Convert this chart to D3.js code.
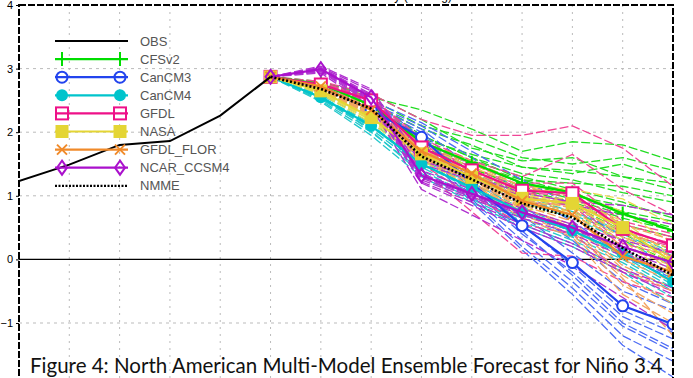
<!doctype html>
<html>
<head>
<meta charset="utf-8">
<style>
  body { margin:0; background:#fff; }
  svg { display:block; }
  .tick text { font-family:"Liberation Sans", Arial, sans-serif; font-size:11px; fill:#000; }
  .leg text { font-family:"Liberation Sans", Arial, sans-serif; font-size:13px; fill:#555; }
</style>
<script src="https://cdn.jsdelivr.net/npm/d3@7"></script>
</head>
<body>
<svg id="plume" width="693" height="378"></svg>
<script>
// observed Nino3.4 (months 0..5), forecasts start at month 5
var obs = [1.23, 1.49, 1.80, 1.86, 2.26, 2.87]
var ic = 2.87
var yTicks = [-1, 0, 1, 2, 3, 4]

var models = ["CFSv2", "CanCM3", "CanCM4", "GFDL", "NASA", "GFDL_FLOR", "NCAR_CCSM4"]
var colors = ["#00dd00", "#2244ee", "#00c4cc", "#ee1188", "#e4d534", "#f08a2a", "#aa11cc"]
var memberColors = ["#22dd22", "#4d6cf5", "#22c8cc", "#f04696", "#e8db50", "#f3a461", "#b030d0"]
var markers = ["plus", "circle", "dot", "square", "fsquare", "cross", "diamond"]

// ensemble means, months 6..13
var meanCFS   = [2.76, 2.42, 1.85, 1.52, 1.20, 1.05, 0.72, 0.45]
var meanCM3   = [2.72, 2.35, 1.92, 1.20, 0.53, -0.05, -0.73, -1.02]
var meanCM4   = [2.55, 2.10, 1.50, 1.13, 0.74, 0.45, 0.10, -0.35]
var meanGFDL  = [2.75, 2.50, 1.76, 1.40, 1.08, 1.04, 0.48, 0.22]
var meanNASA  = [2.65, 2.23, 1.66, 1.29, 0.96, 0.88, 0.50, -0.05]
var meanFLOR  = [2.72, 2.35, 1.70, 1.35, 0.92, 0.70, 0.05, -0.20]
var meanNCAR  = [2.99, 2.55, 1.32, 1.03, 0.74, 0.50, 0.20, -0.05]
var meanNMME  = [2.68, 2.37, 1.62, 1.26, 0.88, 0.66, 0.18, -0.25]

// ensemble members, months 6..13
var memCFS = [
  [2.80, 2.55, 2.35, 2.05, 1.70, 1.85, 1.80, 1.55],
  [2.78, 2.60, 2.20, 1.75, 1.55, 1.60, 1.30, 1.10],
  [2.75, 2.45, 2.05, 1.80, 1.45, 1.35, 1.50, 1.25],
  [2.72, 2.40, 1.95, 1.60, 1.25, 1.05, 0.75, 0.60],
  [2.70, 2.38, 1.80, 1.45, 1.10, 0.90, 0.55, 0.35],
  [2.74, 2.45, 1.85, 1.50, 1.20, 1.00, 0.85, 0.70],
  [2.76, 2.35, 1.75, 1.40, 1.00, 0.85, 0.45, 0.15],
  [2.71, 2.42, 1.70, 1.35, 1.05, 0.90, 0.65, 0.45],
  [2.73, 2.30, 1.65, 1.30, 0.95, 0.75, 0.40, 0.05],
  [2.77, 2.50, 1.95, 1.60, 1.35, 1.25, 1.05, 0.90],
  [2.69, 2.36, 1.80, 1.50, 1.25, 1.20, 1.15, 1.00],
  [2.75, 2.44, 1.90, 1.65, 1.45, 1.40, 1.30, 1.20],
  [2.72, 2.28, 1.60, 1.25, 0.90, 0.70, 0.30, -0.05],
  [2.74, 2.40, 1.85, 1.55, 1.30, 1.10, 0.90, 0.65],
  [2.78, 2.52, 2.10, 1.90, 1.60, 1.50, 1.60, 1.40],
  [2.70, 2.33, 1.78, 1.42, 1.15, 0.95, 0.70, 0.50]
]
var memCM3 = [
  [2.75, 2.45, 2.10, 1.60, 1.05, 0.60, 0.05, -0.30],
  [2.70, 2.30, 1.85, 1.10, 0.40, -0.20, -0.90, -1.25],
  [2.72, 2.40, 2.00, 1.30, 0.70, 0.10, -0.50, -0.80],
  [2.68, 2.25, 1.75, 0.95, 0.20, -0.45, -1.20, -1.60],
  [2.74, 2.38, 1.95, 1.25, 0.55, -0.10, -0.80, -1.15],
  [2.71, 2.32, 1.80, 1.00, 0.30, -0.35, -1.05, -1.45],
  [2.73, 2.42, 2.05, 1.45, 0.85, 0.30, -0.35, -0.70],
  [2.69, 2.28, 1.70, 0.90, 0.15, -0.55, -1.35, -1.85],
  [2.76, 2.50, 2.15, 1.70, 1.25, 0.85, 0.35, 0.10],
  [2.70, 2.35, 1.90, 1.15, 0.45, -0.25, -1.00, -1.40]
]
var memCM4 = [
  [2.55, 2.15, 1.60, 1.25, 0.90, 0.65, 0.30, -0.10],
  [2.50, 2.00, 1.40, 1.00, 0.60, 0.30, -0.05, -0.50],
  [2.58, 2.20, 1.65, 1.30, 0.95, 0.70, 0.40, 0.05],
  [2.52, 2.05, 1.45, 1.05, 0.65, 0.35, 0.00, -0.45],
  [2.56, 2.12, 1.50, 1.15, 0.75, 0.45, 0.10, -0.35],
  [2.48, 1.95, 1.30, 0.90, 0.50, 0.20, -0.20, -0.70],
  [2.60, 2.25, 1.70, 1.35, 1.00, 0.75, 0.45, 0.10],
  [2.53, 2.08, 1.55, 1.20, 0.80, 0.50, 0.15, -0.30],
  [2.57, 2.02, 1.35, 0.95, 0.55, 0.25, -0.15, -0.60],
  [2.54, 2.10, 1.50, 1.10, 0.70, 0.45, 0.05, -0.40]
]
var memGFDL = [
  [2.80, 2.60, 2.20, 1.95, 1.95, 2.10, 1.75, 1.15],
  [2.78, 2.55, 1.90, 1.55, 1.30, 1.65, 1.10, 0.70],
  [2.74, 2.50, 1.75, 1.40, 1.05, 1.00, 0.40, 0.20],
  [2.72, 2.45, 1.65, 1.25, 0.90, 0.85, 0.20, -0.10],
  [2.76, 2.52, 1.80, 1.45, 1.15, 1.10, 0.55, 0.35],
  [2.70, 2.40, 1.50, 1.00, 0.55, 0.40, -0.20, -0.50],
  [2.77, 2.55, 1.85, 1.50, 1.20, 1.20, 0.60, 0.40],
  [2.73, 2.48, 1.70, 1.30, 0.95, 0.90, 0.25, 0.05],
  [2.68, 2.35, 1.40, 0.75, 0.10, 0.05, -0.35, -0.60],
  [2.75, 2.52, 1.80, 1.45, 1.10, 1.05, 0.45, 0.25]
]
var memNASA = [
  [2.68, 2.30, 1.75, 1.40, 1.10, 1.05, 0.75, 0.25],
  [2.62, 2.18, 1.60, 1.20, 0.85, 0.75, 0.35, -0.20],
  [2.66, 2.25, 1.70, 1.35, 1.00, 0.95, 0.60, 0.05],
  [2.60, 2.15, 1.55, 1.15, 0.80, 0.70, 0.30, -0.30],
  [2.70, 2.35, 1.80, 1.45, 1.15, 1.10, 0.95, 0.55],
  [2.64, 2.20, 1.62, 1.25, 0.92, 0.82, 0.45, -0.10],
  [2.67, 2.28, 1.68, 1.30, 1.00, 0.90, 0.55, 0.00],
  [2.63, 2.20, 1.65, 1.25, 0.95, 0.85, 0.40, -0.15]
]
var memFLOR = [
  [2.75, 2.40, 1.80, 1.50, 1.15, 1.00, 0.55, 0.30],
  [2.70, 2.30, 1.65, 1.25, 0.80, 0.55, -0.15, -0.50],
  [2.73, 2.38, 1.75, 1.40, 1.00, 0.80, 0.20, -0.05],
  [2.68, 2.28, 1.60, 1.20, 0.70, 0.40, -0.40, -0.85],
  [2.74, 2.36, 1.72, 1.38, 0.95, 0.75, 0.10, -0.20],
  [2.71, 2.32, 1.68, 1.30, 0.85, 0.60, -0.10, -0.45],
  [2.76, 2.42, 1.85, 1.55, 1.20, 1.05, 0.45, 0.15],
  [2.69, 2.30, 1.62, 1.22, 0.75, 0.45, -0.30, -1.20],
  [2.72, 2.35, 1.70, 1.35, 0.90, 0.70, 0.00, -0.35],
  [2.70, 2.33, 1.66, 1.28, 0.82, 0.50, -0.25, -0.70],
  [2.74, 2.37, 1.74, 1.42, 1.05, 0.90, 0.35, 0.05],
  [2.67, 2.26, 1.58, 1.15, 0.65, 0.35, -0.55, -1.00]
]
var memNCAR = [
  [3.02, 2.65, 1.50, 1.25, 1.00, 0.85, 0.70, 0.55],
  [2.98, 2.50, 1.25, 0.95, 0.65, 0.40, 0.05, -0.25],
  [3.00, 2.58, 1.35, 1.05, 0.75, 0.50, 0.20, -0.05],
  [2.95, 2.45, 1.20, 0.85, 0.50, 0.20, -0.20, -0.55],
  [3.04, 2.68, 1.55, 1.30, 1.05, 0.90, 0.85, 0.70],
  [2.97, 2.52, 1.28, 0.98, 0.70, 0.45, 0.10, -0.20],
  [3.01, 2.60, 1.40, 1.10, 0.80, 0.55, 0.30, 0.10],
  [2.93, 2.40, 1.10, 0.70, 0.30, -0.10, -0.60, -1.10],
  [2.99, 2.55, 1.30, 1.00, 0.72, 0.48, 0.15, -0.15],
  [2.96, 2.48, 1.22, 0.90, 0.55, 0.25, -0.15, -0.45]
]

var means = [meanCFS, meanCM3, meanCM4, meanGFDL, meanNASA, meanFLOR, meanNCAR]
var members = [memCFS, memCM3, memCM4, memGFDL, memNASA, memFLOR, memNCAR]

var svg = d3.select("#plume")
var x = d3.scaleLinear().domain([0, 13]).range([19, 673])
var y = d3.scaleLinear().domain([-1, 4]).range([323, 5])

svg.append("defs").append("clipPath").attr("id", "clip")
  .append("rect").attr("x", 19).attr("y", 5).attr("width", 654).attr("height", 380)

// grid
var grid = svg.append("g")
grid.selectAll("line.v").data(d3.range(1, 13)).enter().append("line")
  .attr("x1", d => x(d)).attr("x2", d => x(d)).attr("y1", 5).attr("y2", 378)
  .style("stroke", "#bbb").style("stroke-dasharray", "2,5")
grid.selectAll("line.h").data(yTicks.filter(d => d != 0 && d != 4)).enter().append("line")
  .attr("x1", 19).attr("x2", 673).attr("y1", d => y(d)).attr("y2", d => y(d))
  .style("stroke", "#bbb").style("stroke-dasharray", "3,4")
svg.append("line").attr("x1", 19).attr("x2", 673).attr("y1", y(0)).attr("y2", y(0))
  .style("stroke", "#000").style("stroke-width", 1.3)

// title remnant, cut off at the top
svg.append("text").attr("x", 452).attr("y", 0).attr("text-anchor", "end")
  .style("font-family", "Liberation Sans").style("font-size", "12px")
  .text("Nino3.4 SST Anomaly (IC=Aug)")

var plot = svg.append("g").attr("clip-path", "url(#clip)")
var fc = d3.line().x((d, i) => x(5 + i)).y(d => y(d))

// members
members.forEach(function(set, m) {
  plot.selectAll(null).data(set).enter().append("path")
    .attr("d", d => fc([ic].concat(d)))
    .style("fill", "none").style("stroke", memberColors[m])
    .style("stroke-width", 1.3).style("stroke-dasharray", "9,3")
})

function marker(g, type, cx, cy, col) {
  if (type == "plus") {
    g.append("path").attr("d", "M" + (cx-6) + "," + cy + "h12M" + cx + "," + (cy-7) + "v14")
      .style("stroke", col).style("stroke-width", 2)
  } else if (type == "circle") {
    g.append("circle").attr("cx", cx).attr("cy", cy).attr("r", 5.5)
      .style("fill", "#fff").style("stroke", col).style("stroke-width", 2)
  } else if (type == "dot") {
    g.append("circle").attr("cx", cx).attr("cy", cy).attr("r", 6).style("fill", col)
  } else if (type == "square") {
    g.append("rect").attr("x", cx-6).attr("y", cy-6).attr("width", 12).attr("height", 12)
      .style("fill", "#fff").style("stroke", col).style("stroke-width", 2)
  } else if (type == "fsquare") {
    g.append("rect").attr("x", cx-6.5).attr("y", cy-6.5).attr("width", 13).attr("height", 13).style("fill", col)
  } else if (type == "cross") {
    g.append("path").attr("d", "M" + (cx-5) + "," + (cy-5) + "l10,10M" + (cx-5) + "," + (cy+5) + "l10,-10")
      .style("stroke", col).style("stroke-width", 2)
  } else if (type == "diamond") {
    g.append("path").attr("d", "M" + cx + "," + (cy-7) + "l5,7l-5,7l-5,-7z")
      .style("fill", "none").style("stroke", col).style("stroke-width", 2)
  }
}

// model means with markers
means.forEach(function(mn, m) {
  var vals = [ic].concat(mn)
  var g = plot.append("g")
  g.append("path").attr("d", fc(vals))
    .style("fill", "none").style("stroke", colors[m]).style("stroke-width", 2.2)
  vals.forEach(function(v, i) { marker(g, markers[m], x(5 + i), y(v), colors[m]) })
})

// NMME mean
plot.append("path").attr("d", fc([ic].concat(meanNMME)))
  .style("fill", "none").style("stroke", "#000").style("stroke-width", 2.6).style("stroke-dasharray", "2,2")

// observations
plot.append("path").attr("d", d3.line().x((d, i) => x(i)).y(d => y(d))(obs))
  .style("fill", "none").style("stroke", "#000").style("stroke-width", 2)

// frame
svg.append("rect").attr("x", 19).attr("y", 5).attr("width", 654).attr("height", 400)
  .style("fill", "none").style("stroke", "#000").style("stroke-width", 2).style("stroke-dasharray", "7,2")

// y axis
svg.append("g").attr("transform", "translate(19,0)")
  .call(d3.axisLeft(y).tickValues(yTicks).tickSize(3).tickPadding(3).tickFormat(d3.format("d")))
  .call(g => g.select(".domain").remove())

// legend
var legNames = ["OBS"].concat(models).concat(["NMME"])
var leg = svg.append("g").attr("class", "leg")
legNames.forEach(function(name, i) {
  var ly = 41 + i * 18.1
  var row = leg.append("g")
  if (i == 0) {
    row.append("line").attr("x1", 55).attr("x2", 128).attr("y1", ly).attr("y2", ly)
      .style("stroke", "#000").style("stroke-width", 2.2)
  } else if (i == legNames.length - 1) {
    row.append("line").attr("x1", 55).attr("x2", 128).attr("y1", ly).attr("y2", ly)
      .style("stroke", "#000").style("stroke-width", 2.2).style("stroke-dasharray", "2,1.5")
  } else {
    var m = i - 1
    marker(row, markers[m], 62, ly, colors[m])
    marker(row, markers[m], 120, ly, colors[m])
    row.append("line").attr("x1", 55).attr("x2", 128).attr("y1", ly).attr("y2", ly)
      .style("stroke", colors[m]).style("stroke-width", 2.2)
  }
  row.append("text").attr("x", 140).attr("y", ly + 4.5).text(name)
})

// figure caption
var cap = svg.append("text").attr("x", 30).attr("y", 373)
  .style("font-family", "Lato, 'Open Sans', sans-serif").style("font-size", "19px").style("fill", "#111")
  .text("Figure 4: North American Multi-Model Ensemble Forecast for Niño 3.4")
var cw = cap.node().getComputedTextLength()
cap.style("font-size", (19 * 633 / cw) + "px")
</script>
</body>
</html>
